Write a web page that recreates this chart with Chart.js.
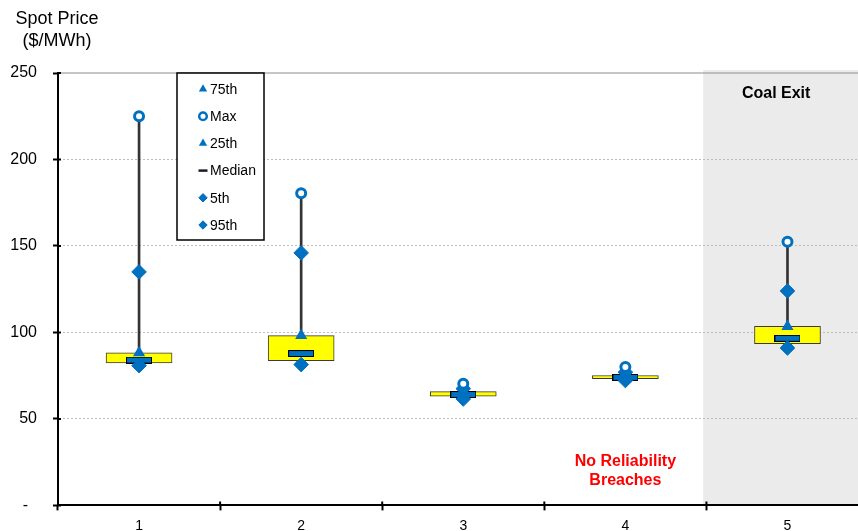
<!DOCTYPE html>
<html>
<head>
<meta charset="utf-8">
<script src="https://cdn.jsdelivr.net/npm/chart.js@4.4.1/dist/chart.umd.min.js"></script>
<style>
  body { margin: 0; background: #fff; }
  #wrap { width: 858px; height: 531px; position: relative; }
</style>
</head>
<body>
<div id="wrap"><canvas id="chart" width="858" height="531"></canvas></div>
<script>
const categories = [1, 2, 3, 4, 5];
const xTickLabels = ["1", "2", "3", "4", "5"];
const p5Values = [80.8, 81.4, 61.5, 72.2, 91];
const p25Values = [82.4, 83.7, 63.1, 73.2, 93.5];
const medianValues = [84, 87.8, 64.1, 74, 96.6];
const p75Values = [88.2, 98.2, 65.8, 75.1, 103.5];
const p95Values = [135, 146, 67.5, 77, 124];
const maxValues = [225, 180.5, 70.4, 80, 152.5];
const legendOrder = ["75th", "Max", "25th", "Median", "5th", "95th"];

const blue = "#0070C0";
const fontFamily = "'Liberation Sans', Arial, sans-serif";

function points(values) {
  return categories.map((c, i) => ({ x: c, y: values[i] }));
}

function ranges(low, high) {
  return categories.map((c, i) => ({ x: c, y: [low[i], high[i]] }));
}

// blue median dash with black outline
const medianMark = document.createElement("canvas");
medianMark.width = 26;
medianMark.height = 7;
const mctx = medianMark.getContext("2d");
mctx.fillStyle = blue;
mctx.fillRect(0, 0, 26, 7);
mctx.strokeStyle = "#000";
mctx.lineWidth = 1;
mctx.strokeRect(0.5, 0.5, 25, 6);

const decorations = {
  id: "decorations",
  beforeDraw(chart) {
    const { ctx, chartArea, scales } = chart;
    const left = scales.x.getPixelForValue(4.48);
    ctx.save();
    ctx.fillStyle = "#ebebeb";
    ctx.fillRect(left, chartArea.top - 3, chartArea.right - left, chartArea.bottom - chartArea.top + 3);
    ctx.restore();
  },
  beforeDatasetsDraw(chart) {
    const { ctx, chartArea, scales } = chart;
    const y = scales.y.getPixelForValue(250);
    ctx.save();
    ctx.strokeStyle = "#8c8c8c";
    ctx.lineWidth = 1;
    ctx.beginPath();
    ctx.moveTo(chartArea.left, y);
    ctx.lineTo(chartArea.right, y);
    ctx.stroke();
    ctx.restore();
  },
  afterDraw(chart) {
    const { ctx, chartArea, scales } = chart;
    const x = scales.x;
    const y = scales.y;
    ctx.save();

    // tick stubs inside the plot
    ctx.strokeStyle = "#000";
    ctx.lineWidth = 2;
    ctx.beginPath();
    y.ticks.forEach((t) => {
      const py = y.getPixelForValue(t.value);
      ctx.moveTo(chartArea.left, py);
      ctx.lineTo(chartArea.left + 3, py);
    });
    [0.5, 1.5, 2.5, 3.5, 4.5].forEach((v) => {
      const px = x.getPixelForValue(v);
      ctx.moveTo(px, chartArea.bottom);
      ctx.lineTo(px, chartArea.bottom - 4);
    });
    ctx.stroke();

    ctx.fillStyle = "#000";
    ctx.textAlign = "center";
    ctx.textBaseline = "middle";
    ctx.font = "18px " + fontFamily;
    ctx.fillText("Spot Price", 57, 19);
    ctx.fillText("($/MWh)", 57, 41);

    ctx.font = "bold 16px " + fontFamily;
    ctx.fillText("Coal Exit", x.getPixelForValue(4.93), y.getPixelForValue(238));

    ctx.fillStyle = "#ff0000";
    ctx.fillText("No Reliability", x.getPixelForValue(4.0), y.getPixelForValue(25.3));
    ctx.fillText("Breaches", x.getPixelForValue(4.0), y.getPixelForValue(14.3));

    // legend box
    const box = { left: 177, top: 73, width: 87, height: 167 };
    ctx.fillStyle = "#fff";
    ctx.fillRect(box.left, box.top, box.width, box.height);
    ctx.strokeStyle = "#000";
    ctx.lineWidth = 1.5;
    ctx.strokeRect(box.left, box.top, box.width, box.height);

    ctx.font = "14px " + fontFamily;
    ctx.textAlign = "left";
    legendOrder.forEach((label, i) => {
      const ds = chart.data.datasets.find((d) => d.label === label);
      const ly = 89 + i * 27.2;
      const lx = 203;
      ctx.fillStyle = ds.legendFill || ds.backgroundColor;
      ctx.strokeStyle = ds.legendStroke || ds.borderColor;
      ctx.lineWidth = ds.legendBorder;
      Chart.helpers.drawPoint(ctx, {
        pointStyle: ds.legendStyle || ds.pointStyle,
        rotation: 0,
        radius: ds.legendRadius,
        borderWidth: ds.legendBorder,
      }, lx, ly);
      ctx.fillStyle = "#000";
      ctx.fillText(label, 210, ly + 1);
    });
    ctx.restore();
  },
};

new Chart(document.getElementById("chart"), {
  type: "scatter",
  data: {
    datasets: [
      {
        label: "Max",
        data: points(maxValues),
        pointStyle: "circle",
        pointRadius: 4.5,
        pointBorderWidth: 3,
        backgroundColor: "#fff",
        borderColor: blue,
        legendRadius: 3.8,
        legendBorder: 2.5,
        order: 1,
      },
      {
        label: "95th",
        data: points(p95Values),
        pointStyle: "rectRot",
        pointRadius: 7.3,
        pointBorderWidth: 1,
        backgroundColor: blue,
        borderColor: blue,
        legendRadius: 4.2,
        legendBorder: 1,
        order: 2,
      },
      {
        label: "5th",
        data: points(p5Values),
        pointStyle: "rectRot",
        pointRadius: 7.3,
        pointBorderWidth: 1,
        backgroundColor: blue,
        borderColor: blue,
        legendRadius: 4.2,
        legendBorder: 1,
        order: 3,
      },
      {
        label: "Median",
        data: points(medianValues),
        pointStyle: medianMark,
        backgroundColor: blue,
        borderColor: "#000",
        legendStyle: "line",
        legendStroke: "#1b1b2a",
        legendRadius: 4.5,
        legendBorder: 2.5,
        order: 4,
      },
      {
        label: "75th",
        data: points(p75Values),
        pointStyle: "triangle",
        pointRadius: 7,
        pointBorderWidth: 0,
        backgroundColor: blue,
        borderColor: blue,
        legendRadius: 4.8,
        legendBorder: 0,
        order: 5,
      },
      {
        type: "bar",
        label: "Box",
        data: ranges(p25Values, p75Values),
        backgroundColor: "#ffff00",
        borderColor: "#3a3a3a",
        borderWidth: 1,
        borderSkipped: false,
        barThickness: 66,
        grouped: false,
        order: 6,
      },
      {
        label: "25th",
        data: points(p25Values),
        pointStyle: "triangle",
        pointRadius: 7,
        pointBorderWidth: 0,
        backgroundColor: blue,
        borderColor: blue,
        legendRadius: 4.8,
        legendBorder: 0,
        order: 7,
      },
      {
        type: "bar",
        label: "Whisker",
        data: ranges(p5Values, maxValues),
        backgroundColor: "#333333",
        borderWidth: 0,
        barThickness: 2,
        grouped: false,
        order: 8,
      },
    ],
  },
  plugins: [decorations],
  options: {
    responsive: false,
    animation: false,
    events: [],
    layout: { autoPadding: false, padding: { top: 73, left: 0, right: 0, bottom: 0 } },
    plugins: {
      legend: { display: false },
      tooltip: { enabled: false },
      title: { display: false },
    },
    scales: {
      x: {
        type: "linear",
        min: 0.5,
        max: 5.435,
        offset: false,
        afterBuildTicks: (scale) => {
          scale.ticks = categories.map((v) => ({ value: v }));
        },
        afterFit: (scale) => {
          scale.height = 25;
          scale.paddingLeft = 0;
          scale.paddingRight = 0;
        },
        ticks: {
          color: "#000",
          font: { family: fontFamily, size: 14 },
          padding: 7,
          maxRotation: 0,
          autoSkip: false,
          callback: (value, index) => xTickLabels[index],
        },
        grid: {
          offset: true,
          drawOnChartArea: false,
          drawTicks: true,
          tickLength: 5,
          tickColor: "#000",
          tickWidth: 2,
        },
        border: { color: "#000", width: 2 },
      },
      y: {
        min: 0,
        max: 250,
        afterFit: (scale) => {
          scale.width = 58;
        },
        ticks: {
          stepSize: 50,
          color: "#000",
          font: { family: fontFamily, size: 16 },
          padding: 16,
          callback: (value) => (value === 0 ? "-  " : String(value)),
        },
        grid: {
          color: (ctx) =>
            ctx.tick && ctx.tick.value > 0 && ctx.tick.value < 250 ? "#bdbdbd" : "rgba(0,0,0,0)",
          lineWidth: 1,
          tickLength: 5,
          tickColor: "#000",
          tickWidth: 2,
        },
        border: { color: "#000", width: 2, dash: [2, 2] },
      },
    },
  },
});
</script>
</body>
</html>
